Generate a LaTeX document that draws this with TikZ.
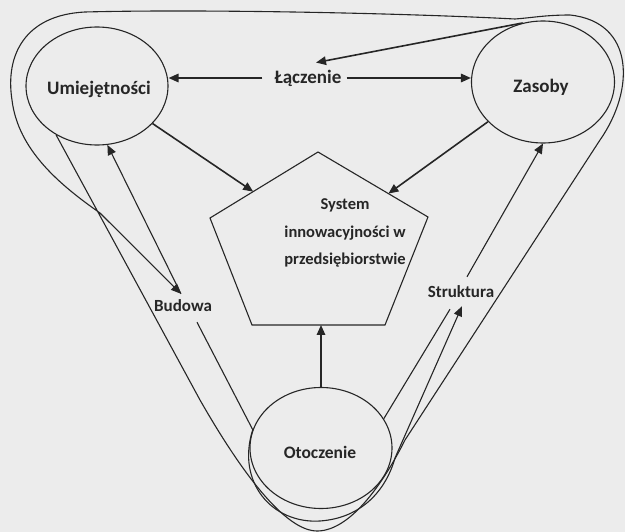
\documentclass[tikz,border=0pt]{standalone}
\usepackage{fontspec}
\setmainfont{Carlito}
\usetikzlibrary{arrows.meta,shapes.geometric,calc}
\definecolor{bg}{HTML}{ECECEC}
\definecolor{ink}{HTML}{262626}
\begin{document}
\begin{tikzpicture}[x=1pt,y=-1pt,
  ln/.style={draw=ink,line width=1.1pt},
  arr/.style={draw=ink,line width=1.6pt,-{Triangle[length=10pt,width=8.5pt]}},
  tarr/.style={draw=ink,line width=1.1pt,-{Triangle[length=10pt,width=8.5pt]}},
  circ/.style={ellipse,draw=ink,line width=1.1pt,inner sep=0pt},
  lbl/.style={font=\bfseries\fontsize{17}{20}\selectfont,text=ink,inner sep=2pt},
  biglbl/.style={lbl,font=\bfseries\fontsize{19}{22}\selectfont}]
\fill[bg] (0,0) rectangle (625,532);
\useasboundingbox (0,0) rectangle (625,532);

% shapes
\node[circ,minimum width=142pt,minimum height=118pt] (umi) at (97,86) {};
\node[circ,minimum width=143pt,minimum height=122pt] (zas) at (543,82) {};
\node[circ,minimum width=142pt,minimum height=121pt] (oto) at (321,448) {};

\coordinate (P1) at (318,152);
\coordinate (P2) at (428,217);
\coordinate (P3) at (385,325);
\coordinate (P4) at (252,325);
\coordinate (P5) at (210,218);
\draw[ln,line join=miter] (P1)--(P2)--(P3)--(P4)--(P5)--cycle;

% labels
\node[biglbl] (umiL) at (99,89) {Umiejętności};
\node[biglbl] (zasL) at (541,87) {Zasoby};
\node[lbl,font=\bfseries\fontsize{17.5}{20}\selectfont] (otoL) at (320,452) {Otoczenie};
\node[biglbl] (lacz) at (308,78) {Łączenie};
\node[lbl] (bud) at (183,306) {Budowa};
\node[lbl] (str) at (461,292) {Struktura};
\node[lbl,align=center,font=\bfseries\fontsize{16.5}{27.5}\selectfont] (sys) at (345,233) {System\\innowacyjności w\\przedsiębiorstwie};

% arrows
\draw[arr] ([xshift=-10pt]lacz.west) -- (umi.east |- lacz.west);
\draw[arr] ([xshift=3pt]lacz.east) -- (zas.west |- lacz.east);
\draw[arr] (zas.109) -- ([xshift=8pt,yshift=5pt]lacz.north);
\draw[arr] (umi) -- ($(P5)!0.4!(P1)$);
\draw[arr] (zas) -- ($(P1)!0.64!(P2)$);
\draw[arr] (oto) -- (oto |- P4);
\draw[tarr] ([xshift=6pt,yshift=7pt]str.north) -- (zas.south);
\draw[tarr] ([xshift=-2pt,yshift=4pt]bud.north) -- (umi.280);

% big loop
\draw[tarr] (umi.230) -- (200,400)
  .. controls (240,470) and (285,532) .. (318,531)
  .. controls (352,530) and (385,480) .. (405,440)
  -- (600,140)
  .. controls (635,90) and (635,22) .. (570,15)
  .. controls (545,15) and (530,18) .. (515,19)
  .. controls (400,13) and (200,9) .. (85,12)
  .. controls (25,15) and (5,55) .. (12,100)
  .. controls (18,150) and (60,185) .. (100,213)
  -- ([xshift=-2pt,yshift=4pt]bud.north);

% Budowa around Otoczenie to Struktura
\draw[tarr] ([xshift=14pt,yshift=-8pt]bud.south) -- (oto.165)
  .. controls (236,482) and (272,524) .. (320,521)
  .. controls (362,518) and (386,490) .. (395,458)
  -- ([xshift=1pt,yshift=-6pt]str.south);

% Otoczenie - Struktura
\draw[ln] (oto.25) -- ([xshift=-11pt,yshift=-9pt]str.south);
\end{tikzpicture}
\end{document}
